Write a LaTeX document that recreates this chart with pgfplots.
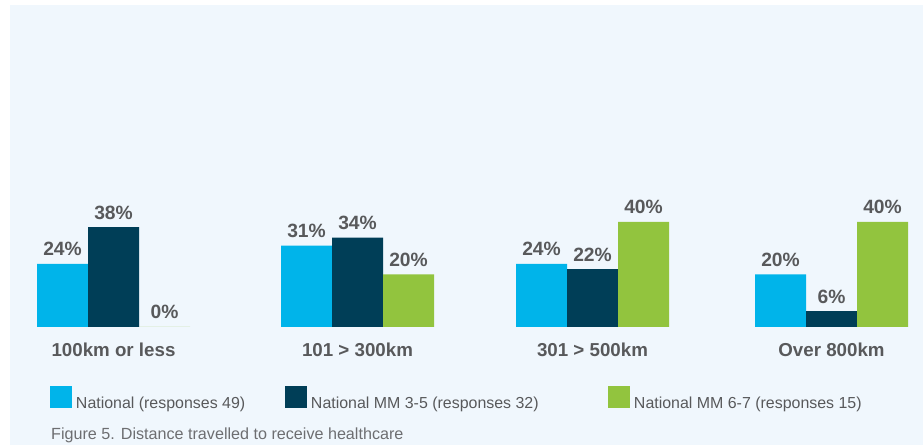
\documentclass[border=0pt]{standalone}
\usepackage{fontspec}
\setmainfont{Liberation Sans}
\usepackage{pgfplots}
\pgfplotsset{compat=1.18}
\definecolor{panel}{RGB}{240,247,253}
\definecolor{cNat}{RGB}{0,180,234}
\definecolor{cMM35}{RGB}{0,62,87}
\definecolor{cMM67}{RGB}{146,196,62}
\definecolor{txt}{RGB}{88,89,91}
\definecolor{captxt}{RGB}{109,110,113}
\begin{document}
\begin{tikzpicture}[x=1bp,y=1bp]
\fill[white] (0,0) rectangle (923,445);
\fill[panel] (10,0) rectangle (923,440);
\begin{axis}[
  at={(0bp,118bp)}, anchor=south west,
  scale only axis, width=923bp, height=105bp,
  xmin=0, xmax=923, ymin=0, ymax=40,
  clip=false,
  axis line style={draw=none},
  major tick length=0pt,
  ytick=\empty,
  xtick={113.5,357.5,592.5,831.5},
  xticklabels={100km or less, 101 > 300km, 301 > 500km, Over 800km},
  xticklabel style={font=\fontsize{18.8}{18.8}\selectfont\bfseries, text=txt, anchor=base, yshift=-30bp, inner sep=0pt},
  ybar=0pt, bar width=51,
  /pgf/number format/assume math mode=true,
  nodes near coords={\pgfmathprintnumber[fixed,precision=0]{\pgfplotspointmeta}\%},
  every node near coord/.append style={font=\fontsize{19.3}{19.3}\selectfont\bfseries, text=txt, anchor=base, yshift=8bp, inner sep=0pt},
  legend columns=3,
  legend cell align=left,
  legend style={at={(0.05417,-0.5619)}, anchor=north west, draw=none, fill=none, inner sep=0pt, outer sep=0pt,
    nodes={inner sep=0pt, outer sep=0pt, font=\fontsize{16}{16}\selectfont, text=txt}, column sep=0pt},
  legend image code/.code={\fill[#1] (0bp,-4.3bp) rectangle (22bp,17.7bp);},
]
\addplot[fill=cNat, draw=none, bar shift=-51] coordinates {(113.5,24) (357.5,31) (592.5,24) (831.5,20)};
\addplot[fill=cMM35, draw=none, bar shift=0] coordinates {(113.5,38) (357.5,34) (592.5,22) (831.5,6)};
\addplot[fill=cMM67, draw=none, bar shift=51] coordinates {(113.5,0) (357.5,20) (592.5,40) (831.5,40)};
\legend{\makebox[213bp][l]{\hspace{4bp}National (responses 49)},
        \makebox[301bp][l]{\hspace{4bp}National MM 3-5 (responses 32)},
        \hspace{4bp}National MM 6-7 (responses 15)}
\end{axis}
\node[anchor=base west, inner sep=0pt, text=captxt, font=\fontsize{16.2}{16.2}\selectfont] at (51,5) {Figure 5. Distance travelled to receive healthcare};
\end{tikzpicture}
\end{document}
